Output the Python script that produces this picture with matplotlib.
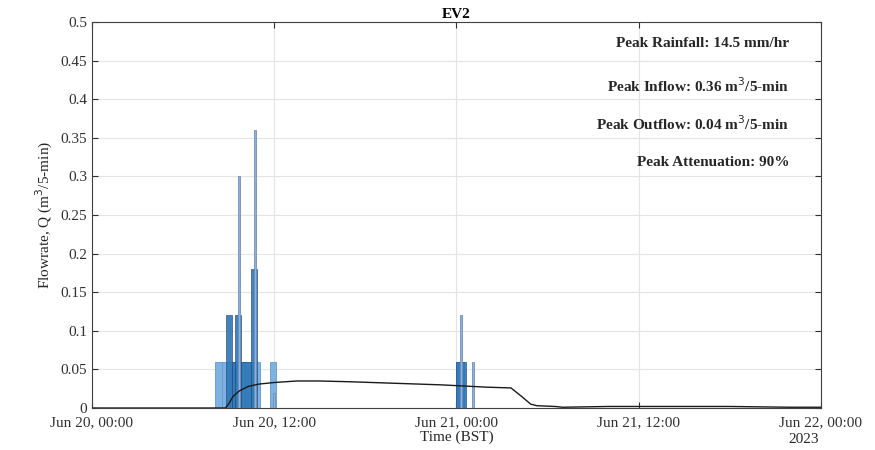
import numpy as np
import pandas as pd
import matplotlib
matplotlib.use('Agg')
import matplotlib.pyplot as plt
import matplotlib.dates as mdates

plt.rcParams['font.family'] = ['Liberation Serif', 'DejaVu Serif']

t0 = pd.Timestamp('2023-06-20 00:00')

# rainfall-style wide bars (hours from start, left edge), width in hours, value
rain_start = [8.1, 8.6, 9.1, 9.6, 10.1, 10.6, 11.7, 24.0]
rain_width = [0.5, 0.5, 0.5, 0.5, 0.5, 0.5, 0.45, 0.5]
rain_q = [0.06, 0.06, 0.06, 0.06, 0.06, 0.06, 0.06, 0.06]

# inflow blocks
inflow_start = [8.8, 9.25, 9.4, 9.8, 10.5, 24.0]
inflow_width = [0.45, 0.15, 0.4, 0.7, 0.35, 0.65]
inflow_q = [0.12, 0.06, 0.12, 0.06, 0.18, 0.06]

# 5-min inflow spikes
spike_h = [9.7, 10.73, 12.0, 24.3, 25.1]
spike_q = [0.30, 0.36, 0.02, 0.12, 0.06]

# outflow line
out_h = [0, 8.8, 9.0, 9.3, 9.7, 10.3, 11.0, 12.0, 13.5, 15.0, 17.0, 20.0, 23.0,
         26.0, 27.6, 28.3, 28.9, 29.3, 30.5, 31.0, 34.0, 38.0, 42.0, 46.0, 48.0]
out_q = [0, 0, 0.005, 0.015, 0.022, 0.028, 0.031, 0.033, 0.035, 0.035, 0.034, 0.032, 0.030,
         0.027, 0.026, 0.015, 0.005, 0.003, 0.002, 0.001, 0.002, 0.002, 0.002, 0.001, 0.001]

notes = ['Peak Rainfall: 14.5 mm/hr',
         'Peak Inflow: 0.36 m$^3$/5-min',
         'Peak Outflow: 0.04 m$^3$/5-min',
         'Peak Attenuation: 90%']


def to_time(hours):
    return [t0 + pd.Timedelta(hours=h) for h in hours]


def to_days(hours):
    return [h / 24.0 for h in hours]


fig = plt.figure(figsize=(8.75, 4.5), dpi=100)
ax = fig.add_axes([0.105, 0.0933, 0.833, 0.858])

ax.bar(to_time(rain_start), rain_q, width=to_days(rain_width), align='edge',
       color='#7fb2e0', edgecolor='#5b9bd5', linewidth=0.6, zorder=2)
ax.bar(to_time(inflow_start), inflow_q, width=to_days(inflow_width), align='edge',
       color='#2e75b6', edgecolor='#1f4e79', linewidth=0.5, alpha=0.9, zorder=3)
ax.bar(to_time(spike_h), spike_q, width=0.1 / 24, align='center',
       color='#8fb0d8', edgecolor='#6d8fbf', linewidth=0.6, zorder=4)
ax.plot(to_time(out_h), out_q, color='#1a1a1a', linewidth=1.0, zorder=5)

ax.set_xlim(t0, t0 + pd.Timedelta(hours=48))
ax.set_ylim(0, 0.5)
ax.set_xticks(to_time([0, 12, 24, 36, 48]))
ax.xaxis.set_major_formatter(mdates.DateFormatter('%b %d, %H:%M'))
ax.set_yticks(np.arange(0, 0.501, 0.05))
ax.set_yticklabels(['0', '0.05', '0.1', '0.15', '0.2', '0.25', '0.3', '0.35', '0.4', '0.45', '0.5'])

ax.grid(True, color='#e4e4e4', linewidth=0.8, zorder=0)
ax.set_axisbelow(True)
ax.tick_params(direction='in', top=True, right=True, length=4, labelsize=11,
               colors='#303030', width=0.8)
ax.tick_params(axis='x', pad=6)
for s in ax.spines.values():
    s.set_color('#404040')
    s.set_linewidth(0.8)

ax.set_xlabel('Time (BST)', fontsize=11, color='#262626', labelpad=1)
ax.set_ylabel('Flowrate, Q (m$^3$/5-min)', fontsize=11, color='#262626')
ax.set_title('EV2', fontsize=11, fontweight='bold', pad=3)
ax.text(0.955, -0.065, '2023', transform=ax.transAxes, ha='left', va='top',
        fontsize=11, color='#262626')

ys = [0.943, 0.834, 0.736, 0.637]
for txt, y in zip(notes, ys):
    ax.text(0.957, y, txt, transform=ax.transAxes, ha='right', va='center',
            fontsize=11, fontweight='bold', color='#262626')

fig.savefig('out.png', dpi=100)
